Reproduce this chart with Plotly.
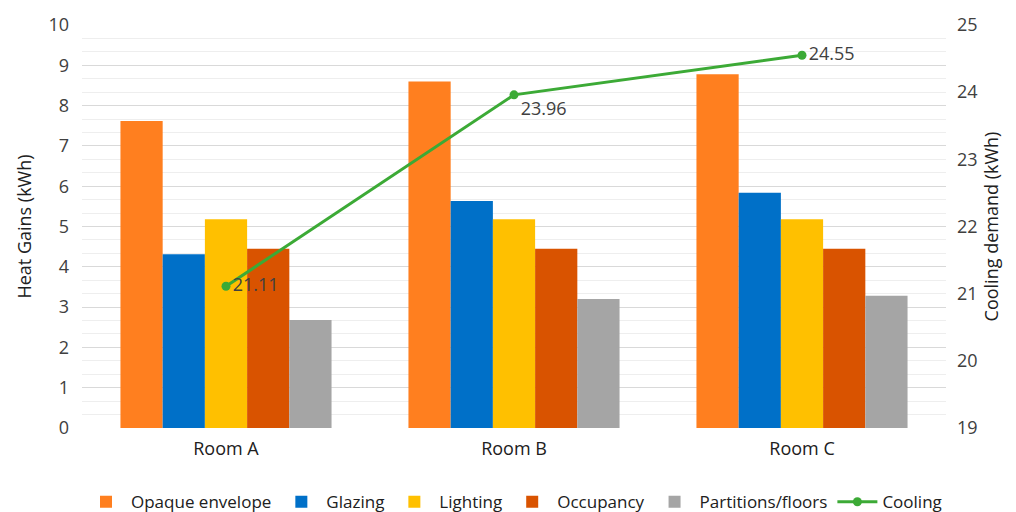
import plotly.graph_objects as go

# Rooms and heat-gain components (kWh)
rooms = ["Room A", "Room B", "Room C"]
opaque_envelope = [7.62, 8.60, 8.78]
glazing = [4.31, 5.63, 5.84]
lighting = [5.18, 5.18, 5.18]
occupancy = [4.45, 4.45, 4.45]
partitions_floors = [2.68, 3.20, 3.28]

# Cooling demand (kWh), right axis
cooling = [21.11, 23.96, 24.55]

left_ticks = list(range(0, 11))
right_ticks = list(range(19, 26))

font_family = "Open Sans, Noto Sans, sans-serif"
text_color = "#404040"

bar_series = [
    ("Opaque envelope", opaque_envelope, "#FF7F1F"),
    ("Glazing", glazing, "#0070C8"),
    ("Lighting", lighting, "#FFC000"),
    ("Occupancy", occupancy, "#D95300"),
    ("Partitions/floors", partitions_floors, "#A5A5A5"),
]

fig = go.Figure()
for name, vals, color in bar_series:
    fig.add_trace(go.Bar(
        x=rooms, y=vals, name=name,
        marker=dict(color=color, line=dict(width=0)),
        yaxis="y",
    ))

fig.add_trace(go.Scatter(
    x=rooms, y=cooling, name="Cooling", yaxis="y2",
    mode="lines+markers+text",
    line=dict(color="#3CAA36", width=3),
    marker=dict(color="#3CAA36", size=9),
    text=[f"{v:.2f}" for v in cooling],
    textposition=["middle right", "bottom right", "middle right"],
    textfont=dict(size=18, color=text_color, family=font_family),
))

fig.update_layout(
    width=1016, height=512,
    margin=dict(l=82, r=70, t=25, b=84, autoexpand=False),
    paper_bgcolor="white", plot_bgcolor="white",
    font=dict(family=font_family, color=text_color, size=17),
    barmode="group", bargap=0.267, bargroupgap=0,
    showlegend=True,
    legend=dict(
        orientation="h", x=0.5, xanchor="center", y=-0.184, yanchor="middle",
        font=dict(size=17, color="#202020"), itemwidth=40,
        traceorder="normal", tracegroupgap=0,
    ),
    xaxis=dict(
        showline=False, ticks="", showgrid=False,
        tickfont=dict(size=18, color="#202020"),
        ticklabelstandoff=8,
    ),
    yaxis=dict(
        range=[0, 10], tickvals=left_ticks, showline=False, ticks="",
        gridcolor="#D9D9D9", gridwidth=1, zeroline=False,
        minor=dict(dtick=1 / 3, showgrid=True, gridcolor="#EEEEEE", gridwidth=1),
        title=dict(text="Heat Gains (kWh)", font=dict(size=18, color="#202020"), standoff=12),
        tickfont=dict(size=18, color=text_color),
        ticklabelstandoff=12,
    ),
    yaxis2=dict(
        range=[19, 25], tickvals=right_ticks, overlaying="y", side="right",
        showgrid=False, showline=False, ticks="", zeroline=False,
        title=dict(text="Cooling demand (kWh)", font=dict(size=18, color="#202020"), standoff=8),
        tickfont=dict(size=18, color=text_color),
        ticklabelstandoff=10,
    ),
)

fig.write_html("out.html")
